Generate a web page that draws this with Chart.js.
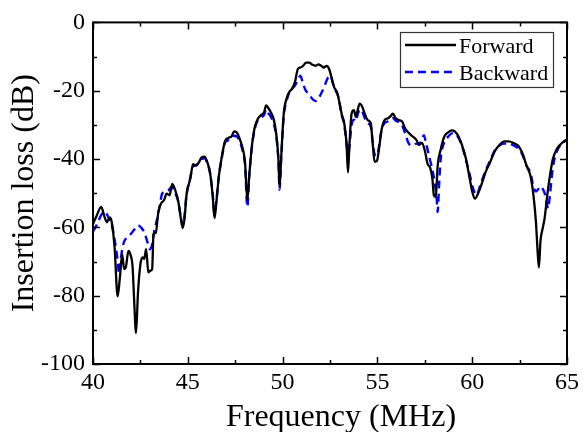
<!DOCTYPE html>
<html lang="en">
<head>
    <meta charset="UTF-8">
    <title>Insertion loss</title>
    <script src="https://cdn.jsdelivr.net/npm/chart.js@4.4.0/dist/chart.umd.min.js"></script>
</head>
<style>
    body { margin: 0; background: #fff; }
    #canvas-div { width: 586px; height: 432px; }
</style>
<body>
    <div id="canvas-div">
        <canvas id="line-chart" width="586" height="432"></canvas>
    </div>
    <script>
    // Forward curve (black, solid)
    var freqF = [40.0,40.2,40.43,40.63,40.73,40.89,41.0,41.14,41.3,41.42,41.54,41.64,41.73,41.87,41.97,42.09,42.17,42.27,42.37,42.5,42.62,42.7,42.8,42.92,43.02,43.12,43.19,43.31,43.45,43.59,43.75,43.88,44.04,44.18,44.34,44.5,44.63,44.73,44.83,44.93,45.13,45.28,45.42,45.58,45.72,45.88,46.01,46.17,46.31,46.41,46.51,46.64,46.8,46.96,47.14,47.3,47.45,47.61,47.75,47.93,48.02,48.14,48.24,48.38,48.54,48.71,48.87,49.03,49.13,49.23,49.37,49.52,49.66,49.78,49.84,49.92,50.06,50.21,50.35,50.49,50.65,50.8,50.94,51.08,51.24,51.4,51.55,51.73,51.89,52.03,52.18,52.32,52.46,52.58,52.72,52.87,53.01,53.11,53.25,53.37,53.45,53.53,53.64,53.76,53.86,53.96,54.06,54.2,54.33,54.49,54.65,54.75,54.85,54.98,55.08,55.22,55.38,55.54,55.67,55.81,55.97,56.13,56.3,56.46,56.66,56.86,57.05,57.19,57.35,57.51,57.65,57.78,57.9,57.98,58.08,58.18,58.34,58.53,58.73,58.93,59.08,59.28,59.48,59.68,59.87,60.01,60.15,60.31,60.5,60.7,60.94,61.19,61.45,61.69,61.92,62.18,62.44,62.67,62.87,63.07,63.23,63.36,63.46,63.52,63.6,63.7,63.82,63.96,64.1,64.25,64.45,64.64,64.84,65.0];
    var forward = [-59,-56.5,-54,-57.3,-58.5,-57.1,-58.8,-66,-80.2,-74.6,-67.9,-72.2,-71.7,-66.9,-67.9,-71.7,-81.3,-90.9,-79.4,-70.8,-68.8,-69.3,-66.4,-73.2,-72.7,-72.2,-62.1,-61.6,-55.4,-53,-52,-50.1,-50.6,-47.3,-49.2,-52.5,-57.3,-60.2,-57.3,-50.6,-45.8,-41.5,-41.8,-41,-39.6,-39.3,-40.6,-43.9,-50.6,-57.3,-52.5,-44.9,-39.1,-34.8,-33.8,-33.4,-31.9,-32.4,-34.3,-37.7,-41,-52.1,-44.9,-36.2,-30.5,-28.1,-27.1,-26.2,-24.3,-24.9,-26.2,-28.1,-32.4,-40.1,-48.2,-40.1,-26.7,-22.3,-20.4,-19.5,-17.5,-13.7,-13.2,-12.7,-11.8,-11.8,-12.3,-12.7,-12.3,-12.7,-13.2,-12.7,-13.7,-16.1,-19,-20.4,-23.8,-26.7,-29.5,-35.3,-43.9,-35.3,-26.7,-25.7,-27.6,-25.7,-23.8,-24.7,-26.7,-28.6,-29.5,-35.3,-40.8,-40.5,-37.2,-31.4,-28.6,-28.1,-27.6,-26.7,-28.1,-28.6,-29,-31,-32.4,-33.4,-34.3,-35.8,-35.3,-37.7,-41.5,-42.5,-45.8,-50.6,-51.1,-41.9,-37.2,-33.4,-32.2,-31.6,-31.9,-33.4,-36.2,-40.1,-45.8,-49.7,-51.6,-50.1,-47.3,-43.9,-41,-37.7,-35.8,-34.8,-34.8,-35.3,-36.2,-38.6,-42,-44.9,-50.6,-58.3,-67.9,-71.7,-64,-60.7,-57.3,-50.6,-44.9,-40.1,-37.2,-35.8,-34.8,-34.3];

    // Backward curve (blue, dashed)
    var freqB = [40.0,40.24,40.43,40.63,40.83,40.99,41.14,41.28,41.38,41.5,41.62,41.77,41.97,42.17,42.37,42.56,42.72,42.88,43.0,43.12,43.23,43.35,43.51,43.65,43.84,43.98,44.14,44.3,44.5,44.63,44.73,44.83,44.93,45.13,45.28,45.42,45.58,45.72,45.88,46.01,46.17,46.31,46.41,46.51,46.64,46.8,46.96,47.14,47.3,47.45,47.61,47.75,47.93,48.02,48.14,48.24,48.38,48.54,48.71,48.87,49.03,49.13,49.23,49.37,49.52,49.66,49.78,49.84,49.92,50.06,50.21,50.35,50.49,50.65,50.8,50.94,51.08,51.24,51.4,51.55,51.73,51.89,52.07,52.22,52.38,52.52,52.66,52.8,52.95,53.11,53.25,53.37,53.45,53.53,53.64,53.76,53.86,53.96,54.06,54.2,54.33,54.49,54.65,54.75,54.85,54.98,55.08,55.22,55.38,55.54,55.67,55.81,55.97,56.13,56.3,56.46,56.66,56.86,57.05,57.19,57.35,57.45,57.55,57.7,57.85,58.0,58.12,58.18,58.25,58.34,58.53,58.73,58.93,59.08,59.28,59.48,59.68,59.87,60.01,60.15,60.25,60.35,60.5,60.7,60.94,61.19,61.45,61.69,61.92,62.18,62.44,62.67,62.87,63.07,63.23,63.36,63.46,63.6,63.7,63.82,63.92,64.0,64.1,64.2,64.3,64.45,64.64,64.84,65.0];
    var backward = [-61.2,-58.8,-56.4,-55.4,-57.3,-59.3,-63.6,-68.8,-73.6,-67.9,-64.5,-63.1,-62.1,-60.7,-59.4,-60.2,-61.6,-64.5,-66.4,-65,-61.2,-58.3,-54,-50.1,-49.6,-49.2,-48.2,-49.6,-52.5,-56.9,-59.4,-56.5,-50.5,-45.5,-42,-42,-41.2,-40,-39.8,-41,-44,-50,-56,-52,-45,-39.5,-35.2,-34.5,-34.2,-33.2,-33.5,-35,-38.5,-42,-54,-45,-36.5,-31,-28.5,-27.8,-27,-25.5,-26.5,-27.5,-29.5,-33,-40.5,-49,-40.5,-27.5,-23,-20.5,-19.5,-18.5,-17,-15.6,-18,-20.1,-20.9,-22.3,-23,-22.3,-20.4,-18.5,-16.3,-15.6,-18,-20,-22,-27,-30,-35.5,-40,-36,-30,-28.5,-29,-27,-25.5,-26,-28,-29.5,-30.5,-35,-38.5,-39,-36.5,-31.5,-29.5,-29,-28.5,-28,-28.8,-29.2,-30,-32.5,-35.5,-36,-35.5,-35.8,-34,-33,-35,-38.5,-42,-46,-51,-55.5,-48,-40,-35,-33.5,-32.5,-32.5,-33.8,-36.5,-40.5,-44.5,-48,-50,-50.5,-49,-46.5,-43.5,-40.5,-37.5,-36,-35.5,-35.5,-36,-37,-39,-42,-44,-48,-49.5,-49,-48,-48.5,-50,-52.5,-54.5,-50.5,-45,-41,-38,-36,-35,-34.5];

    var xTicks = [40, 45, 50, 55, 60, 65];
    var yTicks = [-100, -80, -60, -40, -20, 0];
    var xLabel = "Frequency (MHz)";
    var yLabel = "Insertion loss (dB)";

    var serif = "'Liberation Serif', 'Times New Roman', serif";

    function toPoints(xs, ys){
        var pts = [];
        for(var i = 0; i < xs.length; i++){
            pts.push({x: xs[i], y: ys[i]});
        }
        return pts;
    }

    // frame, inward ticks (major + minor, all four sides), legend and x title
    var framePlugin = {
        id: 'frame',
        afterDraw: function(chart){
            var ctx = chart.ctx;
            var a = chart.chartArea;
            var xs = chart.scales.x, ys = chart.scales.y;
            ctx.save();
            ctx.strokeStyle = '#000';
            ctx.lineWidth = 2;
            ctx.strokeRect(a.left, a.top, a.right - a.left, a.bottom - a.top);

            ctx.lineWidth = 1.5;
            ctx.beginPath();
            for(var v = 40; v <= 65; v += 2.5){
                var px = Math.round(xs.getPixelForValue(v)) + 0.5;
                var len = (v % 5 === 0) ? 7 : 4;
                ctx.moveTo(px, a.bottom); ctx.lineTo(px, a.bottom - len);
                ctx.moveTo(px, a.top); ctx.lineTo(px, a.top + len);
            }
            for(var w = -100; w <= 0; w += 10){
                var py = Math.round(ys.getPixelForValue(w)) + 0.5;
                var l2 = (w % 20 === 0) ? 7 : 4;
                ctx.moveTo(a.left, py); ctx.lineTo(a.left + l2, py);
                ctx.moveTo(a.right, py); ctx.lineTo(a.right - l2, py);
            }
            ctx.stroke();

            // legend box
            var bx = 400, by = 32, bw = 153, bh = 55;
            ctx.fillStyle = '#fff';
            ctx.fillRect(bx, by, bw, bh);
            ctx.strokeStyle = '#333';
            ctx.lineWidth = 1.2;
            ctx.strokeRect(bx + 0.5, by + 0.5, bw, bh);
            var sets = chart.data.datasets;
            var rows = [45, 72];
            ctx.font = "22px " + serif;
            ctx.textBaseline = 'middle';
            ctx.textAlign = 'left';
            for(var k = 0; k < sets.length; k++){
                ctx.strokeStyle = sets[k].borderColor;
                ctx.lineWidth = sets[k].borderWidth;
                ctx.setLineDash(sets[k].borderDash || []);
                ctx.beginPath();
                ctx.moveTo(405, rows[k]);
                ctx.lineTo(456, rows[k]);
                ctx.stroke();
                ctx.setLineDash([]);
                ctx.fillStyle = '#000';
                ctx.fillText(sets[k].label, 459, rows[k] + 2);
            }

            // x axis title
            ctx.font = "32px " + serif;
            ctx.textAlign = 'center';
            ctx.textBaseline = 'alphabetic';
            ctx.fillStyle = '#000';
            ctx.fillText(xLabel, 341, 426);
            ctx.restore();
        }
    };

    new Chart(document.getElementById("line-chart"), {
        type: 'line',
        data: {
            datasets: [{
                label: "Forward",
                data: toPoints(freqF, forward),
                borderColor: "#000000",
                borderWidth: 2.3,
                fill: false,
                pointRadius: 0,
                cubicInterpolationMode: 'monotone'
            }, {
                label: "Backward",
                data: toPoints(freqB, backward),
                borderColor: "#0000ff",
                borderWidth: 2.4,
                borderDash: [8, 5],
                fill: false,
                pointRadius: 0,
                cubicInterpolationMode: 'monotone'
            }]
        },
        options: {
            responsive: false,
            animation: false,
            layout: { padding: { top: 17, right: 19, left: 0, bottom: 0 } },
            plugins: {
                legend: { display: false },
                tooltip: { enabled: false }
            },
            scales: {
                x: {
                    type: 'linear',
                    min: 40,
                    max: 65,
                    afterFit: function(scale){ scale.height = 68; },
                    afterBuildTicks: function(scale){
                        scale.ticks = xTicks.map(function(v){ return {value: v}; });
                    },
                    grid: { display: false, drawTicks: false },
                    border: { display: false },
                    ticks: {
                        padding: 4,
                        color: '#000',
                        maxRotation: 0,
                        font: { family: serif, size: 24 }
                    }
                },
                y: {
                    min: -100,
                    max: 0,
                    afterFit: function(scale){ scale.width = 93; },
                    afterBuildTicks: function(scale){
                        scale.ticks = yTicks.map(function(v){ return {value: v}; });
                    },
                    grid: { display: false, drawTicks: false },
                    border: { display: false },
                    ticks: {
                        padding: 8,
                        color: '#000',
                        font: { family: serif, size: 24 }
                    },
                    title: {
                        display: true,
                        text: yLabel,
                        color: '#000',
                        padding: { top: 9, bottom: 0 },
                        font: { family: serif, size: 32, lineHeight: 1 }
                    }
                }
            }
        },
        plugins: [framePlugin]
    });
    </script>
</body>
</html>
